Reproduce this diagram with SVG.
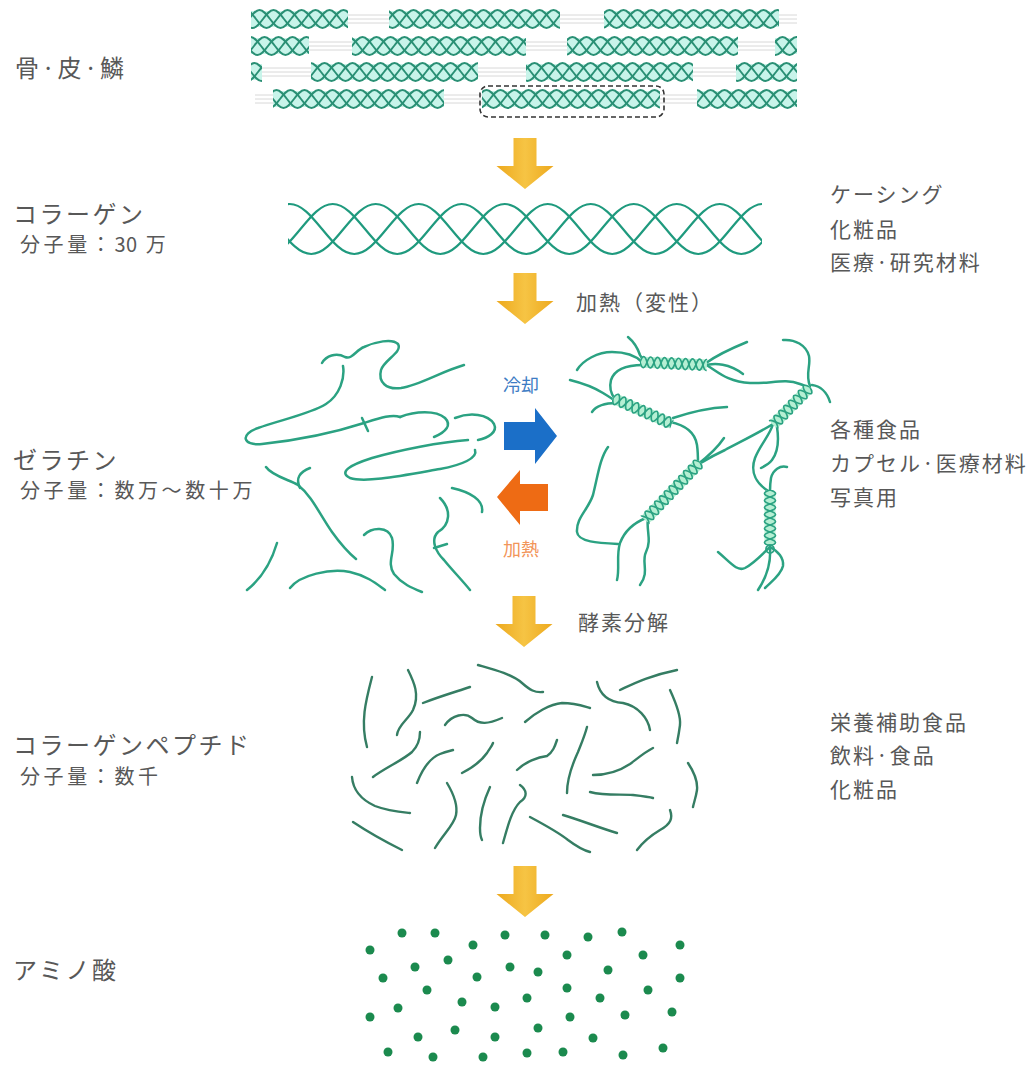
<svg xmlns="http://www.w3.org/2000/svg" xmlns:xlink="http://www.w3.org/1999/xlink" width="1035" height="1068" viewBox="0 0 1035 1068">
<style>
  .lbl{font-family:'Noto Sans CJK JP','Noto Sans',sans-serif;fill:#585858;}
  .big{font-size:24px;letter-spacing:2.5px;}
  .sub{font-size:20px;letter-spacing:3.6px;}
  .num{letter-spacing:0.5px;}
  .use{font-size:21px;letter-spacing:2px;}
  .gap{stroke:#d8d8d8;stroke-width:1;fill:none;}
  .mini{fill:none;stroke:#2a9075;stroke-width:1.9;}
  .seg{fill:#c8f4ea;}
  .col{fill:none;stroke:#1f9a7e;stroke-width:2.2;}
  .gel{fill:none;stroke:#2ba282;stroke-width:2.5;stroke-linecap:round;}
  .hx{fill:none;stroke:#2ba282;stroke-width:1.7;}
  .hxf{fill:#b5efd3;}
  .pep{fill:none;stroke:#357d63;stroke-width:2.4;stroke-linecap:round;}
  .dot{fill:#1b8a4e;}
  .ya{fill:url(#yg);}
</style>
<defs>
  <linearGradient id="yg" x1="0" y1="0" x2="1" y2="0">
    <stop offset="0" stop-color="#EDA91E"/>
    <stop offset="0.5" stop-color="#F6C444"/>
    <stop offset="1" stop-color="#EDA91E"/>
  </linearGradient>
  <path id="yarrow" d="M-11.5,0 H11.5 V28 H28.5 L0,51 L-28.5,28 H-11.5 Z"/>
  <path id="ms" d="M200,0 c3.5,4.7 6.69,9 10.5,9 s7,-4.3 10.5,-9 s6.69,-9 10.5,-9 s7,4.3 10.5,9 s6.69,9 10.5,9 s7,-4.3 10.5,-9 s6.69,-9 10.5,-9 s7,4.3 10.5,9 s6.69,9 10.5,9 s7,-4.3 10.5,-9 s6.69,-9 10.5,-9 s7,4.3 10.5,9 s6.69,9 10.5,9 s7,-4.3 10.5,-9 s6.69,-9 10.5,-9 s7,4.3 10.5,9 s6.69,9 10.5,9 s7,-4.3 10.5,-9 s6.69,-9 10.5,-9 s7,4.3 10.5,9 s6.69,9 10.5,9 s7,-4.3 10.5,-9 s6.69,-9 10.5,-9 s7,4.3 10.5,9 s6.69,9 10.5,9 s7,-4.3 10.5,-9 s6.69,-9 10.5,-9 s7,4.3 10.5,9 s6.69,9 10.5,9 s7,-4.3 10.5,-9 s6.69,-9 10.5,-9 s7,4.3 10.5,9 s6.69,9 10.5,9 s7,-4.3 10.5,-9 s6.69,-9 10.5,-9 s7,4.3 10.5,9 s6.69,9 10.5,9 s7,-4.3 10.5,-9 s6.69,-9 10.5,-9 s7,4.3 10.5,9 s6.69,9 10.5,9 s7,-4.3 10.5,-9 s6.69,-9 10.5,-9 s7,4.3 10.5,9 s6.69,9 10.5,9 s7,-4.3 10.5,-9 s6.69,-9 10.5,-9 s7,4.3 10.5,9 s6.69,9 10.5,9 s7,-4.3 10.5,-9 s6.69,-9 10.5,-9 s7,4.3 10.5,9 s6.69,9 10.5,9 s7,-4.3 10.5,-9 s6.69,-9 10.5,-9 s7,4.3 10.5,9 s6.69,9 10.5,9 s7,-4.3 10.5,-9 s6.69,-9 10.5,-9 s7,4.3 10.5,9 s6.69,9 10.5,9"/>
  <path id="cs" d="M150,0 c10.77,13.13 20.54,25 32.25,25 s21.48,-11.88 32.25,-25 s20.54,-25 32.25,-25 s21.48,11.88 32.25,25 s20.54,25 32.25,25 s21.48,-11.88 32.25,-25 s20.54,-25 32.25,-25 s21.48,11.88 32.25,25 s20.54,25 32.25,25 s21.48,-11.88 32.25,-25 s20.54,-25 32.25,-25 s21.48,11.88 32.25,25 s20.54,25 32.25,25 s21.48,-11.88 32.25,-25 s20.54,-25 32.25,-25 s21.48,11.88 32.25,25 s20.54,25 32.25,25 s21.48,-11.88 32.25,-25 s20.54,-25 32.25,-25 s21.48,11.88 32.25,25 s20.54,25 32.25,25 s21.48,-11.88 32.25,-25 s20.54,-25 32.25,-25 s21.48,11.88 32.25,25 s20.54,25 32.25,25"/>
  <path id="hw" d="M0,0 q3.5,-11 7,0 t7,0 t7,0 t7,0 t7,0 t7,0 t7,0 t7,0 t7,0 t7,0 t7,0 t7,0 t7,0 t7,0"/>
  <clipPath id="clipTop">
    <rect x="251" y="8" width="97" height="22"/><rect x="389" y="8" width="171" height="22"/><rect x="604" y="8" width="175" height="22"/>
    <rect x="251" y="35" width="58" height="22"/><rect x="352" y="35" width="174" height="22"/><rect x="567" y="35" width="171" height="22"/><rect x="775" y="35" width="22" height="22"/>
    <rect x="251" y="61" width="11" height="22"/><rect x="311" y="61" width="167" height="22"/><rect x="526" y="61" width="167" height="22"/><rect x="736" y="61" width="61" height="22"/>
    <rect x="273" y="88" width="171" height="22"/><rect x="482" y="88" width="178" height="22"/><rect x="697" y="88" width="100" height="22"/>
  </clipPath>
  <clipPath id="clipCol"><rect x="288" y="195" width="474" height="70"/></clipPath>
  <clipPath id="cH1"><rect x="0" y="-7" width="67" height="14"/></clipPath>
  <clipPath id="cH2"><rect x="0" y="-7" width="64.5" height="14"/></clipPath>
  <clipPath id="cH3"><rect x="0" y="-7" width="53" height="14"/></clipPath>
  <clipPath id="cH4"><rect x="0" y="-7" width="80" height="14"/></clipPath>
  <clipPath id="cH5"><rect x="0" y="-7" width="55" height="14"/></clipPath>
</defs>
<rect width="1035" height="1068" fill="#ffffff"/>

<g id="node-bone">
  <text class="lbl big" x="15" y="77">骨·皮·鱗</text>
  <g class="gap">
    <path d="M252,15 H797 M252,19 H797 M252,23 H797"/>
    <path d="M252,42 H797 M252,46 H797 M252,50 H797"/>
    <path d="M252,68 H797 M252,72 H797 M252,76 H797"/>
    <path d="M255,95 H797 M255,99 H797 M255,103 H797"/>
  </g>
  <g class="seg">
    <rect x="251" y="11" width="97" height="16"/><rect x="389" y="11" width="171" height="16"/><rect x="604" y="11" width="175" height="16"/>
    <rect x="251" y="38" width="58" height="16"/><rect x="352" y="38" width="174" height="16"/><rect x="567" y="38" width="171" height="16"/><rect x="775" y="38" width="22" height="16"/>
    <rect x="251" y="64" width="11" height="16"/><rect x="311" y="64" width="167" height="16"/><rect x="526" y="64" width="167" height="16"/><rect x="736" y="64" width="61" height="16"/>
    <rect x="273" y="91" width="171" height="16"/><rect x="482" y="91" width="178" height="16"/><rect x="697" y="91" width="100" height="16"/>
  </g>
  <g class="mini" clip-path="url(#clipTop)">
    <use href="#ms" transform="translate(0,19)"/><use href="#ms" transform="translate(14,19)"/><use href="#ms" transform="translate(28,19)"/>
    <use href="#ms" transform="translate(5,46)"/><use href="#ms" transform="translate(19,46)"/><use href="#ms" transform="translate(33,46)"/>
    <use href="#ms" transform="translate(9,72)"/><use href="#ms" transform="translate(23,72)"/><use href="#ms" transform="translate(37,72)"/>
    <use href="#ms" transform="translate(3,99)"/><use href="#ms" transform="translate(17,99)"/><use href="#ms" transform="translate(31,99)"/>
  </g>
  <rect x="480" y="86" width="184" height="31" rx="8" fill="none" stroke="#333" stroke-width="1.6" stroke-dasharray="5 3"/>
</g>

<g id="node-collagen">
  <text class="lbl big" x="13" y="223">コラーゲン</text>
  <text class="lbl sub" x="20" y="252">分子量：<tspan class="num">30</tspan> 万</text>
  <g class="col" clip-path="url(#clipCol)">
    <use href="#cs" transform="translate(0,229)"/>
    <use href="#cs" transform="translate(43,229)"/>
    <use href="#cs" transform="translate(86,229)"/>
  </g>
  <text class="lbl use" x="830" y="202">ケーシング</text>
  <text class="lbl use" x="830" y="237">化粧品</text>
  <text class="lbl use" x="830" y="270">医療·研究材料</text>
</g>

<g id="node-gelatin">
  <text class="lbl big" x="13" y="469">ゼラチン</text>
  <text class="lbl sub" x="20" y="498">分子量：数万〜数十万</text>
  <g id="gelatin-sol" class="gel">
    <path d="M322,363 C326,356 336,352 345,357 C352,360 356,350 364,347 C375,342 392,338 398,344 C403,352 384,360 381,370 C378,382 386,390 401,388 C420,385 440,372 464,365"/>
    <path d="M343,366 C345,378 340,395 326,404 C310,414 280,420 258,428 C240,434 242,446 262,444 C290,441 330,434 364,423 C380,418 392,414 400,417"/>
    <path d="M362,418 L368,431"/>
    <path d="M400,417 C415,411 436,410 445,418 C452,425 446,432 434,437"/>
    <path d="M468,440 C440,442 400,450 372,458 C350,465 338,472 350,478 C365,483 400,476 440,469 C462,465 478,458 475,450"/>
    <path d="M455,418 C470,412 488,414 494,424 C498,432 488,438 478,440"/>
    <path d="M266,467 C272,476 290,480 298,485 C312,496 320,515 332,532 C342,546 350,554 356,559"/>
    <path d="M277,543 C272,560 262,578 247,590"/>
    <path d="M290,588 C300,575 330,568 350,572 C368,576 378,585 385,590"/>
    <path d="M364,535 C372,527 388,526 392,538 C396,552 386,562 394,574 C402,584 412,588 422,592"/>
    <path d="M440,498 C452,510 450,525 438,532 C430,540 436,552 444,560 C452,570 462,580 470,590"/>
    <path d="M434,548 L447,544"/>
    <path d="M452,488 C470,492 484,500 482,512"/>
    <path d="M310,468 C300,472 295,478 300,488"/>
  </g>
  <g id="gelatin-gel">
    <g class="gel">
      <path d="M577,370 C583,360 598,352 612,352 C625,352 636,356 642,362"/>
      <path d="M628,337 C634,342 638,349 640,355 C642,359 645,361 648,362"/>
      <path d="M706,363 C713,358 725,351 747,342"/>
      <path d="M703,366 C715,362 730,364 743,374"/>
      <path d="M643,365 C630,365 615,368 611,380 C609,388 611,394 615,399"/>
      <path d="M570,380 C582,383 595,388 603,393 C608,396 611,398 614,400"/>
      <path d="M592,412 C596,406 605,403 617,403"/>
      <path d="M670,422 C685,425 695,432 697,445 C698,452 698,458 698,464"/>
      <path d="M673,418 C688,413 705,408 727,407"/>
      <path d="M708,366 C718,372 728,382 750,383 C770,384 785,378 800,384 C805,386 808,387 810,388"/>
      <path d="M783,340 C795,339 806,345 809,356 C811,366 805,374 810,386"/>
      <path d="M812,385 C820,386 827,392 830,402"/>
      <path d="M773,424 C760,432 740,442 725,450 C712,456 704,461 699,464"/>
      <path d="M773,424 C770,435 760,445 755,458 C750,472 756,484 770,492"/>
      <path d="M777,427 C779,440 778,452 772,460 C769,464 765,466 761,468"/>
      <path d="M787,467 C780,465 773,470 771,478 C770,484 770,488 770,491"/>
      <path d="M770,547 C763,553 756,562 745,568 C737,572 730,562 718,552"/>
      <path d="M770,547 C778,551 784,558 783,566 C781,575 771,582 765,588"/>
      <path d="M770,547 C771,560 768,575 758,590"/>
      <path d="M646,518 C636,522 625,530 620,543 C616,556 620,568 617,580"/>
      <path d="M648,518 C646,530 652,540 646,552 C641,562 650,572 640,585"/>
      <path d="M608,447 C600,458 598,475 593,495 C588,510 576,518 577,532 C578,542 598,543 618,544"/>
      <path d="M697,465 C706,458 716,450 724,438"/>
    </g>
    <g transform="translate(640,362) rotate(2.6)"><rect class="hxf" x="0" y="-5.5" width="67" height="11" rx="4"/><g class="hx" clip-path="url(#cH1)"><use href="#hw"/><use href="#hw" transform="scale(1,-1)"/></g></g>
    <g transform="translate(613,398) rotate(23.8)"><rect class="hxf" x="0" y="-5.5" width="64.5" height="11" rx="4"/><g class="hx" clip-path="url(#cH2)"><use href="#hw"/><use href="#hw" transform="scale(1,-1)"/></g></g>
    <g transform="translate(810,387) rotate(134.2)"><rect class="hxf" x="0" y="-5.5" width="53" height="11" rx="4"/><g class="hx" clip-path="url(#cH3)"><use href="#hw"/><use href="#hw" transform="scale(1,-1)"/></g></g>
    <g transform="translate(700,462) rotate(133.5)"><rect class="hxf" x="0" y="-5.5" width="80" height="11" rx="4"/><g class="hx" clip-path="url(#cH4)"><use href="#hw"/><use href="#hw" transform="scale(1,-1)"/></g></g>
    <g transform="translate(770,490) rotate(90)"><rect class="hxf" x="0" y="-5.5" width="55" height="11" rx="4"/><g class="hx" clip-path="url(#cH5)"><use href="#hw"/><use href="#hw" transform="scale(1,-1)"/></g></g>
    <circle cx="770" cy="549" r="4" fill="none" stroke="#2ba282" stroke-width="1.8"/>
  </g>
  <text class="lbl use" x="830" y="437">各種食品</text>
  <text class="lbl use" x="830" y="471">カプセル·医療材料</text>
  <text class="lbl use" x="830" y="505">写真用</text>
</g>

<g id="node-peptide">
  <text class="lbl big" x="13" y="754">コラーゲンペプチド</text>
  <text class="lbl sub" x="20" y="784">分子量：数千</text>
  <g class="pep">
    <path d="M372,677 C366,700 360,722 367,747"/>
    <path d="M408,670 C414,682 420,695 413,710 C408,720 398,725 397,735"/>
    <path d="M423,703 C438,697 455,692 470,687"/>
    <path d="M478,665 C492,669 512,674 522,683 C530,690 535,693 543,692"/>
    <path d="M445,725 C452,715 465,712 472,718 C480,725 488,724 502,718"/>
    <path d="M525,722 C535,713 550,704 562,703 C575,703 583,706 590,708"/>
    <path d="M597,682 C600,695 608,702 623,703 C638,706 648,718 650,730"/>
    <path d="M620,690 C633,684 648,676 677,670"/>
    <path d="M670,690 C676,703 681,715 680,725 C679,733 678,738 677,743"/>
    <path d="M373,777 C385,768 403,760 412,752 C419,745 420,738 420,732"/>
    <path d="M417,783 C422,770 430,758 440,754 C445,752 449,751 453,750"/>
    <path d="M462,773 C472,768 482,760 487,753 C490,748 492,746 493,743"/>
    <path d="M517,770 C525,762 538,757 547,756 C553,752 555,746 557,740"/>
    <path d="M567,793 C567,780 572,765 578,752 C582,742 585,735 587,727"/>
    <path d="M593,775 C605,775 618,772 630,764 C638,758 645,752 653,748"/>
    <path d="M688,763 C694,772 698,780 697,790 C696,797 694,802 693,807"/>
    <path d="M352,777 C353,790 362,800 375,806 C388,811 400,812 410,813"/>
    <path d="M353,822 C362,828 382,840 402,850"/>
    <path d="M447,783 C453,793 458,805 456,815 C454,825 444,833 435,848"/>
    <path d="M490,787 C484,800 480,815 480,828 C480,835 481,838 482,840"/>
    <path d="M520,785 C527,790 528,797 520,802 C512,810 508,825 503,843"/>
    <path d="M530,817 C545,825 558,832 568,840 C576,846 582,850 590,852"/>
    <path d="M563,815 C580,820 600,828 617,833"/>
    <path d="M590,792 C605,796 620,794 633,795 C642,796 650,797 653,798"/>
    <path d="M670,810 C673,818 671,824 660,830 C650,836 643,842 637,850"/>
  </g>
  <text class="lbl use" x="830" y="730">栄養補助食品</text>
  <text class="lbl use" x="830" y="763">飲料·食品</text>
  <text class="lbl use" x="830" y="797">化粧品</text>
</g>

<g id="node-amino">
  <text class="lbl big" x="13" y="979">アミノ酸</text>
  <g class="dot">
    <circle cx="402" cy="933" r="4.5"/><circle cx="435" cy="933" r="4.5"/><circle cx="505" cy="935" r="4.5"/><circle cx="545" cy="935" r="4.5"/><circle cx="588" cy="937" r="4.5"/><circle cx="622" cy="932" r="4.5"/>
    <circle cx="370" cy="950" r="4.5"/><circle cx="473" cy="945" r="4.5"/><circle cx="567" cy="955" r="4.5"/><circle cx="643" cy="955" r="4.5"/><circle cx="680" cy="945" r="4.5"/>
    <circle cx="415" cy="967" r="4.5"/><circle cx="448" cy="960" r="4.5"/><circle cx="510" cy="967" r="4.5"/><circle cx="538" cy="972" r="4.5"/><circle cx="608" cy="970" r="4.5"/>
    <circle cx="383" cy="978" r="4.5"/><circle cx="477" cy="977" r="4.5"/><circle cx="680" cy="978" r="4.5"/>
    <circle cx="427" cy="990" r="4.5"/><circle cx="567" cy="988" r="4.5"/><circle cx="648" cy="990" r="4.5"/>
    <circle cx="462" cy="1002" r="4.5"/><circle cx="495" cy="1007" r="4.5"/><circle cx="527" cy="998" r="4.5"/><circle cx="600" cy="998" r="4.5"/>
    <circle cx="398" cy="1008" r="4.5"/><circle cx="370" cy="1017" r="4.5"/><circle cx="570" cy="1017" r="4.5"/><circle cx="625" cy="1015" r="4.5"/><circle cx="672" cy="1012" r="4.5"/>
    <circle cx="418" cy="1037" r="4.5"/><circle cx="455" cy="1030" r="4.5"/><circle cx="495" cy="1037" r="4.5"/><circle cx="538" cy="1028" r="4.5"/><circle cx="593" cy="1038" r="4.5"/>
    <circle cx="388" cy="1052" r="4.5"/><circle cx="433" cy="1057" r="4.5"/><circle cx="483" cy="1057" r="4.5"/><circle cx="527" cy="1053" r="4.5"/><circle cx="563" cy="1052" r="4.5"/><circle cx="623" cy="1055" r="4.5"/><circle cx="663" cy="1048" r="4.5"/>
  </g>
</g>

<g id="connectors">
  <use href="#yarrow" class="ya" transform="translate(525,138)"/>
  <use href="#yarrow" class="ya" transform="translate(525,273)"/>
  <use href="#yarrow" class="ya" transform="translate(524,596)"/>
  <use href="#yarrow" class="ya" transform="translate(525,866)"/>
  <text class="lbl use" x="576" y="310">加熱（変性）</text>
  <text class="lbl use" x="578" y="630">酵素分解</text>
  <path d="M504,422 H535 V408 L557,436 L535,464 V450 H504 Z" fill="#1B6FC8"/>
  <path d="M548,484 H520 V470 L497,497 L520,525 V511 H548 Z" fill="#EE6B14"/>
  <text x="521" y="392" text-anchor="middle" font-family="'Noto Sans CJK JP',sans-serif" font-size="18" fill="#3d7cc4">冷却</text>
  <text x="521" y="556" text-anchor="middle" font-family="'Noto Sans CJK JP',sans-serif" font-size="18" fill="#f2955a">加熱</text>
</g>
</svg>
